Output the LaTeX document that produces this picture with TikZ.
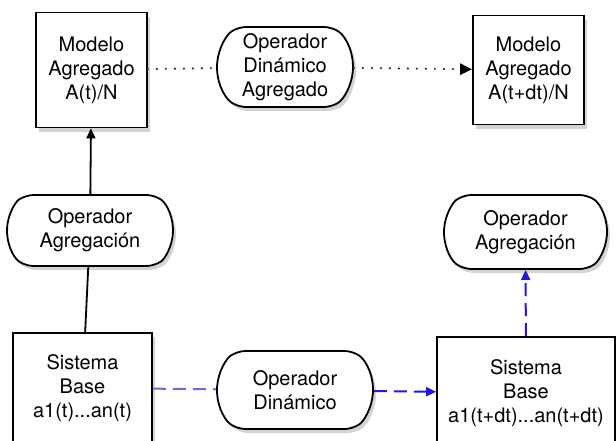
\documentclass[tikz,border=0pt]{standalone}
\usepackage{fontspec}
\setmainfont{TeX Gyre Heros}
\usetikzlibrary{arrows.meta,shapes.misc,shadows}
\definecolor{lavdash}{RGB}{120,100,225}
\definecolor{bluedash}{RGB}{40,20,225}

\begin{document}
\begin{tikzpicture}[x=0.5pt, y=-0.5pt,
    every node/.style={font=\fontsize{10}{12}\selectfont, align=center, inner sep=0pt},
    modelbox/.style={draw, line width=0.9pt, fill=white, rectangle,
        drop shadow={shadow xshift=1.5pt, shadow yshift=-2pt, opacity=0.35}},
    opoval/.style={draw, line width=0.9pt, fill=white, rounded rectangle,
        rounded rectangle arc length=110, rounded corners=4pt,
        drop shadow={shadow xshift=1.5pt, shadow yshift=-2pt, opacity=0.35}},
    tip/.style={-{Triangle[length=5pt, width=4.5pt]}},
    aggline/.style={line width=1.2pt, black!85, line cap=round, dash pattern=on 0pt off 4.5pt},
    baseline/.style={line width=1pt, dash pattern=on 6.5pt off 3.5pt}]
    \useasboundingbox (0,0) rectangle (616,440);
    \node[modelbox, minimum width=55.5pt, minimum height=57.5pt] (magg) at (91.5,70) {Modelo\\Agregado\\A(t)/N};
    \node[opoval, minimum width=68pt, minimum height=40pt] (opdinagg) at (285,67) {Operador\\Din\'amico\\Agregado};
    \node[modelbox, minimum width=55.5pt, minimum height=54.5pt] (maggdt) at (528.5,70) {Modelo\\Agregado\\A(t+dt)/N};
    \node[opoval, minimum width=83pt, minimum height=35.5pt] (opagg) at (90,230.5) {Operador\\Agregaci\'on};
    \node[opoval, minimum width=81.5pt, minimum height=37pt] (opaggdt) at (525.5,232) {Operador\\Agregaci\'on};
    \node[modelbox, minimum width=69.5pt, minimum height=55pt] (sisbase) at (82.5,388) {Sistema\\Base\\a1(t)...an(t)};
    \node[opoval, minimum width=78pt, minimum height=39pt] (opdin) at (295,390) {Operador\\Din\'amico};
    \node[modelbox, minimum width=89pt, minimum height=56pt] (sisbasedt) at (526,393) {Sistema\\Base\\a1(t+dt)...an(t+dt)};
    \draw[aggline] (magg) -- (opdinagg);
    \draw[aggline, -{Triangle[length=6pt, width=5.5pt, black]}] (opdinagg) -- (maggdt);
    \draw[line width=0.9pt, tip] (opagg) -- (magg);
    \draw[line width=0.9pt] (sisbase) -- (opagg);
    \draw[baseline, lavdash] (sisbase) -- (opdin);
    \draw[baseline, bluedash, tip] (opdin) -- (sisbasedt);
    \draw[baseline, bluedash, tip] (sisbasedt) -- (opaggdt);
\end{tikzpicture}
\end{document}
